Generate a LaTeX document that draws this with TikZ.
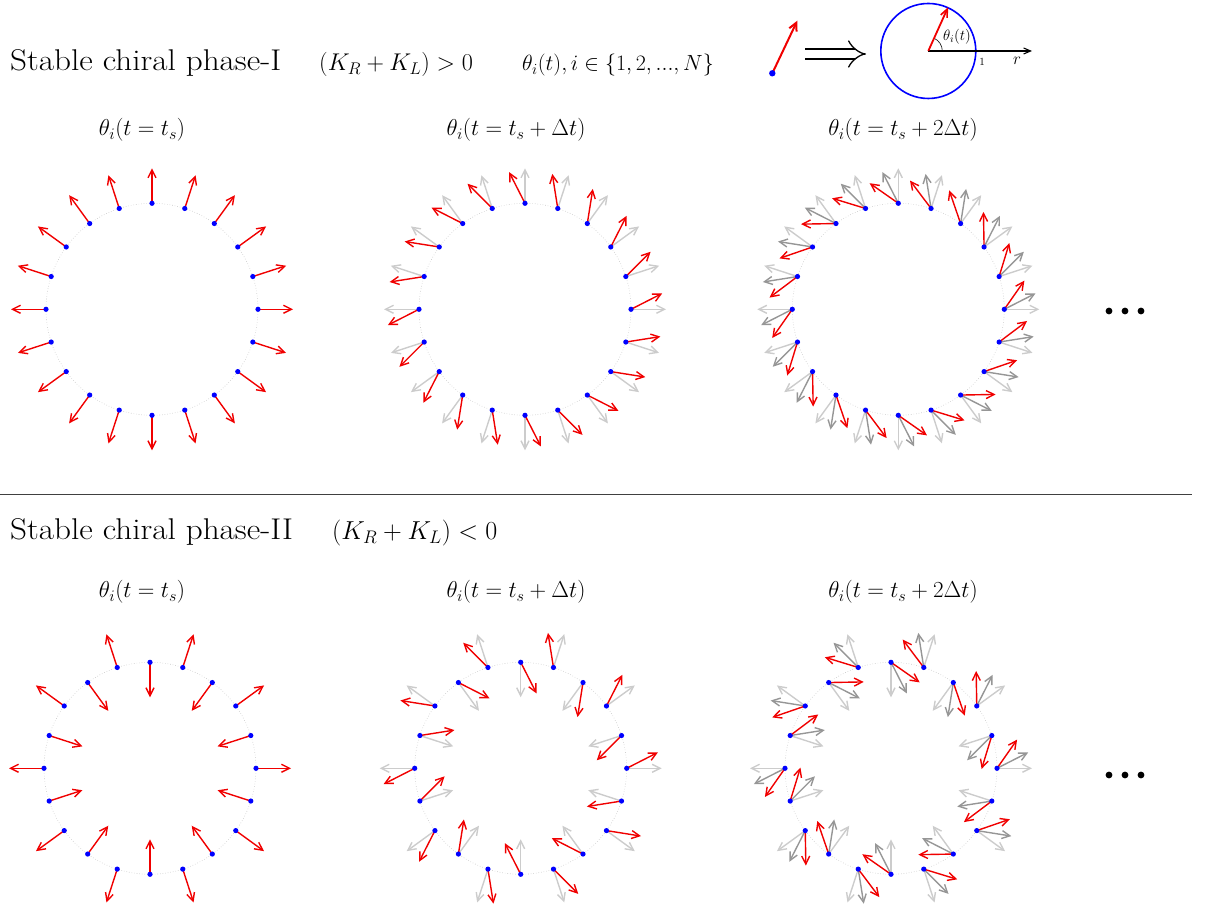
\documentclass[tikz,border=0pt]{standalone}
\usepackage{fix-cm}
\usepackage{amssymb}
\usetikzlibrary{arrows.meta,calc}
\definecolor{vecred}{RGB}{240,0,0}
\definecolor{lightg}{RGB}{204,204,204}
\definecolor{darkg}{RGB}{150,150,150}
\definecolor{dotblue}{RGB}{0,0,255}
\tikzset{
  vec/.style={line width=1.4pt, -{Straight Barb[length=8pt,width=8pt,line width=1.4pt]}},
  ringline/.style={draw=gray!45, dotted, line width=0.6pt},
  headtext/.style={font=\fontsize{30}{36}\selectfont, inner sep=0pt},
  mathtext/.style={font=\fontsize{23}{28}\selectfont, inner sep=0pt},
  bluedot/.style={fill=dotblue},
}
\newcommand{\spinring}[4]{%
  \coordinate (c) at (#1,#2);
  \draw[ringline] (c) circle[radius=106];
  \foreach \k in {0,...,19}{
    \pgfmathsetmacro\ph{18*\k}
    \pgfmathsetmacro\bs{\ph + #3*mod(\k,2)}
    \coordinate (p\k) at ($(c)+(\ph:106)$);
    \foreach \col/\rot in {#4}{
      \draw[vec, draw=\col] (p\k) -- ++(\bs+\rot:35);
    }
    \fill[bluedot] (p\k) circle[radius=2.6];
  }
}
\begin{document}
\begin{tikzpicture}[x=1pt,y=1pt]
\useasboundingbox (0,0) rectangle (1214,920);

% ---- headings phase I
\node[headtext, anchor=base west] (h1) at (10,849) {\scalebox{1.105}[1]{Stable chiral phase-I}};
\node[mathtext, font=\fontsize{24.2}{28}\selectfont, anchor=base west] (k1) at (319,849) {$(K_R+K_L)>0$};
\node[mathtext, font=\fontsize{22}{28}\selectfont, anchor=base west] (th) at (522,849) {$\theta_i(t), i\in\{1,2,...,N\}$};

% ---- icon
\coordinate (idot) at (772.3,846.7);
\coordinate (itip) at (797.3,899.3);
\draw[line width=2pt, vecred, -{Straight Barb[length=8pt,width=8pt,line width=2pt]}] (idot) -- (itip);
\fill[bluedot] (idot) circle[radius=3.2];
\coordinate (da) at (805,866);
\coordinate (db) at (866,866);
\draw[double, double distance=8.5pt, line width=1.3pt, -{Implies[length=9pt]}] (da) -- (db);
\coordinate (oc) at (928.3,869);
\draw[dotblue, line width=1.6pt] (oc) circle[radius=47.5];
\coordinate (ax) at (1032,869);
\draw[line width=1.1pt, -{Straight Barb[length=7pt,width=6pt,line width=1.1pt]}] (oc) -- (ax);
\draw[line width=0.6pt] ($(oc)+(14,0)$) arc[start angle=0, end angle=65.7, radius=14];
\draw[line width=1.8pt, vecred, -{Straight Barb[length=8pt,width=7pt,line width=1.6pt]}] (oc) -- ++(65.7:48);
\node[font=\fontsize{15}{18}\selectfont, inner sep=0pt] (thl) at (957,883) {$\theta_i(t)$};
\node[font=\fontsize{11}{13}\selectfont, inner sep=0pt] (one) at (982,858) {$1$};
\node[font=\fontsize{17}{18}\selectfont, inner sep=0pt] (rl) at (1017,859) {$r$};

% ---- phase I rings
\node[mathtext, anchor=base] (l11) at (142,784) {$\theta_i(t=t_s)$};
\node[mathtext, anchor=base] (l12) at (516,784) {$\theta_i(t=t_s+\Delta t)$};
\node[mathtext, anchor=base] (l13) at (903,784) {$\theta_i(t=t_s+2\Delta t)$};
\spinring{152}{610.7}{0}{vecred/0}
\spinring{525}{610.7}{0}{lightg/0, vecred/27}
\spinring{898.3}{610.7}{0}{lightg/0, darkg/27, vecred/55}
\foreach \x in {1109,1125,1141}{\fill (\x,609) circle[radius=3.4];}

% ---- separator
\coordinate (sa) at (0,426);
\coordinate (sb) at (1192,426);
\draw[line width=0.9pt, black!75] (sa) -- (sb);

% ---- phase II
\node[headtext, anchor=base west] (h2) at (10,380) {\scalebox{1.105}[1]{Stable chiral phase-II}};
\node[mathtext, font=\fontsize{26}{30}\selectfont, anchor=base west] (k2) at (332,380) {$(K_R+K_L)<0$};
\node[mathtext, anchor=base] (l21) at (142,322) {$\theta_i(t=t_s)$};
\node[mathtext, anchor=base] (l22) at (516,322) {$\theta_i(t=t_s+\Delta t)$};
\node[mathtext, anchor=base] (l23) at (903,322) {$\theta_i(t=t_s+2\Delta t)$};
\spinring{150}{151.7}{180}{vecred/0}
\spinring{520.7}{151.7}{180}{lightg/0, vecred/27}
\spinring{891}{151.7}{180}{lightg/0, darkg/27, vecred/55}
\foreach \x in {1109,1125,1141}{\fill (\x,145) circle[radius=3.4];}
\end{tikzpicture}
\end{document}
